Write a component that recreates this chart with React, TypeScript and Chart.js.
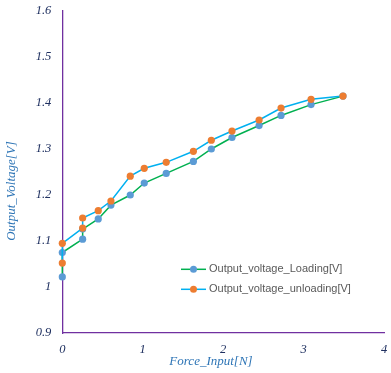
import React, { useEffect, useRef } from "react";
import { Chart, registerables } from "chart.js";

Chart.register(...registerables);

// ---- data ----
const loadingForce = [0, 0, 0.253, 0.253, 0.447, 0.605, 0.845, 1.019, 1.292, 1.63, 1.853, 2.11, 2.447, 2.72, 3.093, 3.49];
const loadingVoltage = [1.022, 1.075, 1.104, 1.126, 1.148, 1.178, 1.2, 1.226, 1.247, 1.273, 1.3, 1.325, 1.351, 1.373, 1.3965, 1.415];
const unloadingForce = [3.49, 3.093, 2.72, 2.447, 2.11, 1.853, 1.63, 1.292, 1.019, 0.845, 0.605, 0.447, 0.253, 0.253, 0, 0];
const unloadingVoltage = [1.415, 1.408, 1.389, 1.363, 1.339, 1.319, 1.295, 1.271, 1.258, 1.241, 1.187, 1.166, 1.15, 1.128, 1.095, 1.052];

const xTickValues = [0, 1, 2, 3, 4];
const xTickLabels = ["0", "1", "2", "3", "4"];
const yTickValues = [0.9, 1.0, 1.1, 1.2, 1.3, 1.4, 1.5, 1.6];
const yTickLabels = ["0.9", "1", "1.1", "1.2", "1.3", "1.4", "1.5", "1.6"];

const seriesNames = ["Output_voltage_Loading[V]", "Output_voltage_unloading[V]"];
const xTitle = "Force_Input[N]";
const yTitle = "Output_Voltage[V]";

const MARKER_BLUE = "#5B9BD5";
const MARKER_ORANGE = "#ED7D31";
const LINE_GREEN = "#00B050";
const LINE_LIGHTBLUE = "#00B0F0";
const AXIS_PURPLE = "#7030A0";
const TICK_NAVY = "#1F3060";
const TITLE_BLUE = "#2E75B6";

const toPoints = (xs: number[], ys: number[]) => xs.map((x, i) => ({ x, y: ys[i] }));

const decorPlugin = {
  id: "decor",
  afterDraw(chart: any) {
    const ctx = chart.ctx as CanvasRenderingContext2D;
    ctx.save();
    // axis titles
    ctx.fillStyle = TITLE_BLUE;
    ctx.font = "italic 13px 'Liberation Serif'";
    ctx.textAlign = "center";
    ctx.textBaseline = "middle";
    ctx.fillText(xTitle, 211, 362);
    ctx.translate(12, 191);
    ctx.rotate(-Math.PI / 2);
    ctx.fillText(yTitle, 0, 0);
    ctx.restore();

    // legend
    const rows = [
      { name: seriesNames[0], line: LINE_GREEN, marker: MARKER_BLUE, y: 269.3 },
      { name: seriesNames[1], line: LINE_LIGHTBLUE, marker: MARKER_ORANGE, y: 289.3 },
    ];
    ctx.save();
    for (const r of rows) {
      ctx.strokeStyle = r.line;
      ctx.lineWidth = 1.5;
      ctx.beginPath();
      ctx.moveTo(181, r.y);
      ctx.lineTo(206, r.y);
      ctx.stroke();
      ctx.fillStyle = r.marker;
      ctx.beginPath();
      ctx.arc(193.5, r.y, 3.5, 0, Math.PI * 2);
      ctx.fill();
      ctx.fillStyle = "#595959";
      ctx.font = "11px 'Liberation Sans'";
      ctx.textAlign = "left";
      ctx.textBaseline = "middle";
      ctx.fillText(r.name, 209, r.y);
    }
    ctx.restore();
  },
};

export default function App() {
  const ref = useRef<HTMLCanvasElement | null>(null);

  useEffect(() => {
    if (!ref.current) return;
    const chart = new Chart(ref.current, {
      type: "scatter",
      data: {
        datasets: [
          {
            label: seriesNames[0],
            data: toPoints(loadingForce, loadingVoltage),
            showLine: true,
            borderColor: LINE_GREEN,
            borderWidth: 1.5,
            backgroundColor: MARKER_BLUE,
            pointBackgroundColor: MARKER_BLUE,
            pointBorderWidth: 0,
            pointRadius: 3.6,
            tension: 0,
            order: 2,
            clip: false,
          },
          {
            label: seriesNames[1],
            data: toPoints(unloadingForce, unloadingVoltage),
            showLine: true,
            borderColor: LINE_LIGHTBLUE,
            borderWidth: 1.5,
            backgroundColor: MARKER_ORANGE,
            pointBackgroundColor: MARKER_ORANGE,
            pointBorderWidth: 0,
            pointRadius: 3.6,
            tension: 0,
            order: 1,
            clip: false,
          },
        ] as any,
      },
      options: {
        animation: false,
        responsive: false,
        layout: { padding: { top: 11, right: 7, left: 0, bottom: 0 } },
        plugins: { legend: { display: false }, tooltip: { enabled: false } },
        scales: {
          x: {
            type: "linear",
            min: 0,
            max: 4,
            afterFit: (s: any) => {
              s.height = 40;
              s.paddingLeft = 0;
              s.paddingRight = 0;
            },
            afterBuildTicks: (s: any) => { s.ticks = xTickValues.map((v) => ({ value: v })); },
            grid: { display: false, drawTicks: false },
            border: { display: true, color: AXIS_PURPLE, width: 1.3 },
            ticks: {
              padding: 9,
              color: TICK_NAVY,
              font: { family: "'Liberation Serif'", size: 12.5, style: "italic" },
              maxRotation: 0,
              callback: (_v: any, i: number) => xTickLabels[i],
            },
          },
          y: {
            type: "linear",
            min: 0.9,
            max: 1.6,
            afterFit: (s: any) => {
              s.width = 62.3;
              s.paddingTop = 0;
              s.paddingBottom = 0;
            },
            afterBuildTicks: (s: any) => { s.ticks = yTickValues.map((v) => ({ value: v })); },
            grid: { display: false, drawTicks: false },
            border: { display: true, color: AXIS_PURPLE, width: 1.3 },
            ticks: {
              padding: 11,
              color: TICK_NAVY,
              font: { family: "'Liberation Serif'", size: 12.5, style: "italic" },
              callback: (_v: any, i: number) => yTickLabels[i],
            },
          },
        },
      } as any,
      plugins: [decorPlugin],
    });
    return () => chart.destroy();
  }, []);

  return (
    <div style={{ position: "absolute", left: 0, top: 0, width: 391, height: 373, background: "#fff" }}>
      <canvas ref={ref} width={391} height={373} style={{ display: "block" }} />
    </div>
  );
}
